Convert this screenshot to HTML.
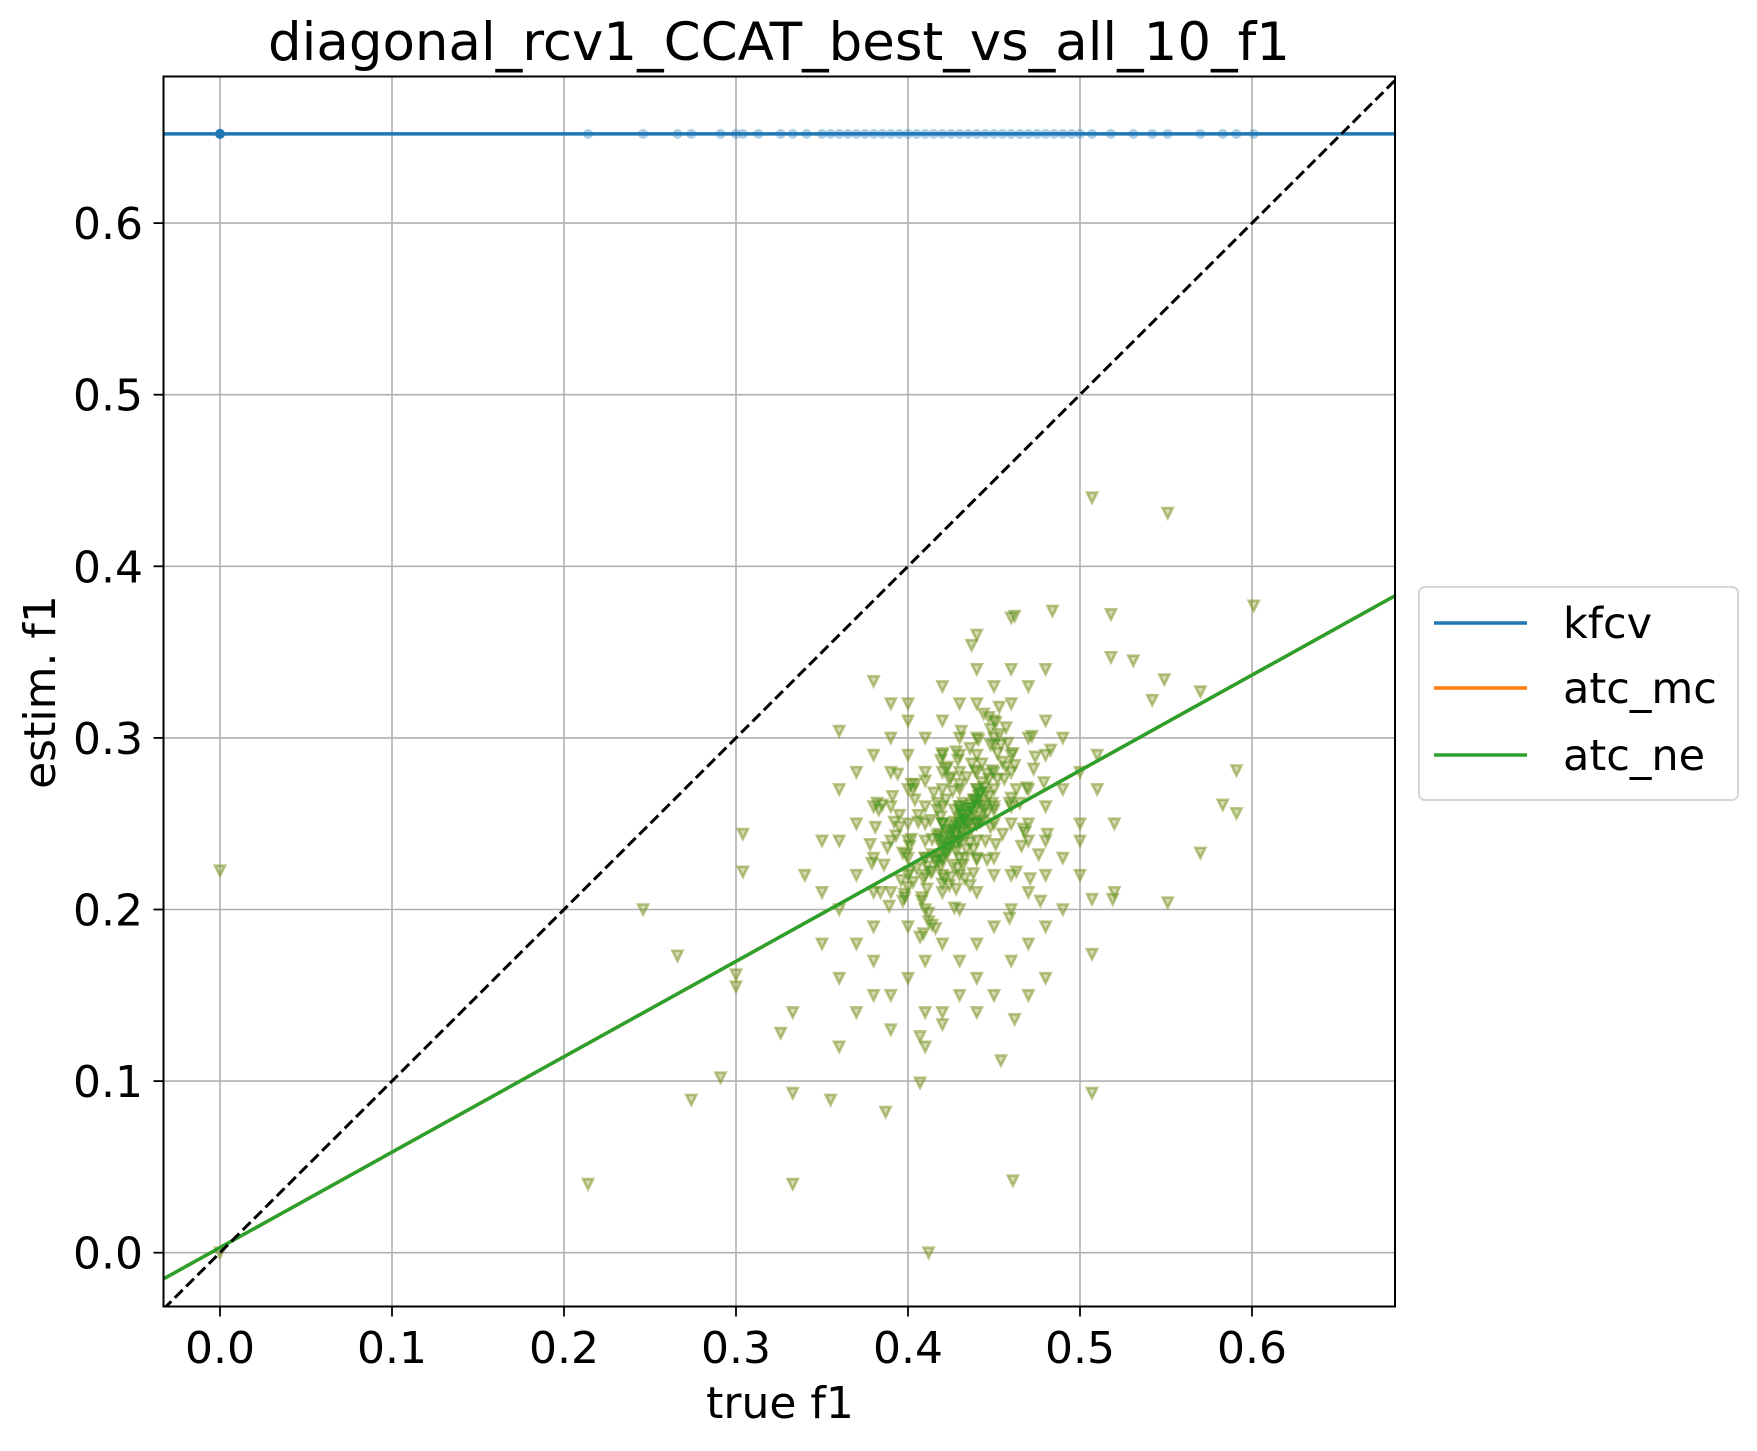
<!DOCTYPE html>
<html><head><meta charset="utf-8"><style>
html,body{margin:0;padding:0;background:#fff}
svg text{font-family:"DejaVu Sans","Liberation Sans",sans-serif;fill:#000}
</style></head><body>
<svg id="chart" width="1757" height="1446" xmlns="http://www.w3.org/2000/svg">
<text x="779" y="60" font-size="53" text-anchor="middle">diagonal_rcv1_CCAT_best_vs_all_10_f1</text>
<text x="780" y="1418" font-size="44" text-anchor="middle">true f1</text>
<text x="55" y="692" font-size="44" text-anchor="middle" transform="rotate(-90 55 692)">estim. f1</text>
<g id="grid"></g>
<g id="plot"></g>
<g id="ticks"></g>
<rect x="163.5" y="76.5" width="1231.5" height="1230" fill="none" stroke="#000" stroke-width="2"/>
<g>
<rect x="1419" y="587" width="319" height="213" rx="6" fill="#fff" stroke="#d6d6d6" stroke-width="2"/>
<line x1="1434" y1="623" x2="1527" y2="623" stroke="#1f77b4" stroke-width="3.5"/>
<text x="1563" y="638" font-size="43">kfcv</text>
<line x1="1434" y1="688" x2="1527" y2="688" stroke="#ff7f0e" stroke-width="3.5"/>
<text x="1563" y="703" font-size="43">atc_mc</text>
<line x1="1434" y1="755" x2="1527" y2="755" stroke="#2ca02c" stroke-width="3.5"/>
<text x="1563" y="770" font-size="43">atc_ne</text>
</g>
</svg>
<script>
const xTicks = [0.0,0.1,0.2,0.3,0.4,0.5,0.6];
const yTicks = [0.0,0.1,0.2,0.3,0.4,0.5,0.6];
const kfcvEst = 0.652;
const atcSlope = 0.556;
const atcIntercept = 0.003;
const kfcvTrue = [0.0,0.214,0.246,0.266,0.274,0.291,0.30,0.304,0.313,0.326,0.333,0.341,0.35,0.355,0.36,0.365,0.37,0.375,0.38,0.385,0.39,0.395,0.40,0.405,0.41,0.415,0.42,0.425,0.43,0.435,0.44,0.445,0.45,0.455,0.46,0.465,0.47,0.475,0.48,0.485,0.49,0.495,0.50,0.507,0.518,0.531,0.542,0.551,0.57,0.583,0.591,0.601];
const atcTrue = [0,0,0.214,0.246,0.266,0.274,0.291,0.30,0.30,0.304,0.304,0.326,0.333,0.333,0.333,0.355,0.36,0.38,0.387,0.412,0.407,0.437,0.461,0.462,0.484,0.507,0.551,0.601,0.518,0.531,0.549,0.570,0.591,0.583,0.591,0.570,0.551,0.519,0.507,0.507,0.507,0.542,0.518,0.454,0.462,0.420,0.407,
0.43,0.42,0.44,0.41,0.45,0.43,0.42,0.44,0.40,0.46,0.43,0.41,0.44,0.42,0.45,0.39,0.47,0.43,0.42,0.44,0.41,0.43,0.45,0.40,0.46,0.42,0.44,0.43,0.41,0.45,0.38,0.48,0.40,0.46,0.42,0.44,0.39,0.47,0.41,0.45,0.43,0.40,0.38,0.48,0.37,0.49,0.42,0.46,0.44,0.41,0.39,0.47,0.36,0.50,0.43,0.45,0.40,0.48,0.38,0.46,0.44,0.42,0.37,0.49,0.41,0.47,0.39,0.45,0.43,0.42,0.44,0.41,0.43,0.40,0.45,0.42,0.44,0.46,0.40,0.43,0.41,0.47,0.39,0.45,0.42,0.44,0.38,0.48,0.40,0.46,0.36,0.37,0.38,0.35,0.36,0.39,0.40,0.41,0.43,0.44,0.45,0.47,0.48,0.49,0.50,0.49,0.50,0.48,0.47,0.45,0.43,0.42,0.40,0.39,0.38,0.37,0.36,0.35,0.34,0.35,0.36,0.37,0.38,0.39,0.41,0.42,0.44,0.46,0.47,0.48,0.50,0.51,0.52,0.52,0.51,0.46,0.48,0.44,0.46,0.44,0.43,0.42,0.44,0.43,0.435,0.425,0.445,0.43,0.44,0.42];
const atcEst = [0.2226,0,0.040,0.200,0.173,0.089,0.102,0.162,0.155,0.244,0.222,0.128,0.093,0.040,0.140,0.089,0.304,0.333,0.082,0.0,0.099,0.354,0.042,0.371,0.374,0.440,0.431,0.377,0.372,0.345,0.334,0.327,0.281,0.261,0.256,0.233,0.204,0.206,0.206,0.174,0.093,0.322,0.347,0.112,0.136,0.133,0.126,
0.25,0.24,0.26,0.23,0.27,0.22,0.27,0.24,0.25,0.25,0.28,0.26,0.29,0.21,0.23,0.24,0.27,0.26,0.25,0.25,0.24,0.24,0.26,0.22,0.28,0.23,0.27,0.20,0.28,0.30,0.23,0.26,0.27,0.22,0.29,0.21,0.21,0.24,0.20,0.31,0.30,0.19,0.26,0.29,0.22,0.27,0.18,0.20,0.32,0.30,0.28,0.30,0.24,0.25,0.17,0.19,0.31,0.22,0.19,0.32,0.18,0.31,0.25,0.23,0.17,0.21,0.30,0.28,0.23,0.26,0.23,0.25,0.27,0.24,0.25,0.22,0.28,0.26,0.23,0.29,0.22,0.25,0.26,0.22,0.28,0.30,0.21,0.24,0.29,0.29,0.20,0.18,0.17,0.21,0.16,0.15,0.16,0.14,0.15,0.16,0.15,0.18,0.19,0.20,0.22,0.30,0.28,0.31,0.33,0.33,0.32,0.33,0.32,0.32,0.29,0.28,0.27,0.24,0.22,0.18,0.12,0.14,0.15,0.13,0.12,0.14,0.14,0.17,0.15,0.16,0.24,0.29,0.25,0.21,0.27,0.34,0.34,0.34,0.37,0.36,0.26,0.25,0.25,0.25,0.255,0.245,0.26,0.24,0.25,0.25];
const coreTrue = [0.432,0.428,0.437,0.421,0.441,0.426,0.435,0.418,0.444,0.431,0.423,0.439,0.427,0.433,0.416,0.447,0.429,0.436,0.422,0.442,0.425,0.434,0.419,0.438,0.430,0.424,0.440,0.413,0.446,0.428,0.435,0.420,0.443,0.427,0.432,0.417,0.449,0.426,0.437,0.421,0.411,0.452,0.405,0.455,0.408,0.414,0.450,0.403,0.458,0.410,0.415,0.453,0.401,0.456,0.406,0.412,0.448,0.398,0.460,0.404,0.436,0.424,0.441,0.419,0.433,0.429,0.438,0.422,0.445,0.417,0.431,0.427,0.440,0.425,0.434,0.420,0.443,0.428,0.436,0.423,0.396,0.462,0.393,0.465,0.399,0.457,0.395,0.463,0.402,0.459,0.391,0.467,0.397,0.454,0.394,0.466,0.400,0.451,0.392,0.469,0.388,0.471,0.385,0.474,0.389,0.468,0.386,0.472,0.383,0.476,0.381,0.479,0.384,0.473,0.379,0.481,0.382,0.477,0.378,0.483,0.409,0.447,0.412,0.444,0.416,0.450,0.407,0.453,0.414,0.448,0.430,0.426,0.439,0.421,0.435,0.431,0.424,0.442,0.418,0.437];
const coreEst = [0.252,0.244,0.261,0.238,0.266,0.249,0.257,0.231,0.271,0.247,0.236,0.263,0.242,0.255,0.228,0.276,0.240,0.259,0.233,0.268,0.246,0.250,0.225,0.264,0.253,0.239,0.270,0.222,0.279,0.234,0.245,0.229,0.274,0.258,0.262,0.243,0.281,0.226,0.285,0.218,0.212,0.291,0.224,0.286,0.207,0.241,0.258,0.216,0.297,0.230,0.268,0.302,0.237,0.276,0.251,0.198,0.248,0.209,0.265,0.273,0.294,0.214,0.299,0.254,0.218,0.287,0.221,0.282,0.240,0.262,0.304,0.201,0.229,0.277,0.235,0.291,0.252,0.212,0.239,0.283,0.217,0.284,0.243,0.262,0.232,0.306,0.255,0.222,0.273,0.195,0.266,0.247,0.205,0.296,0.279,0.237,0.213,0.309,0.251,0.271,0.236,0.218,0.261,0.289,0.202,0.245,0.226,0.301,0.258,0.232,0.248,0.274,0.210,0.282,0.227,0.244,0.262,0.205,0.238,0.293,0.186,0.312,0.193,0.314,0.189,0.296,0.184,0.318,0.191,0.305,0.258,0.247,0.264,0.242,0.251,0.256,0.236,0.268,0.244,0.259];
const denseTrue = [0.418,0.423,0.427,0.431,0.436,0.441,0.445,0.414,0.419,0.424,0.429,0.433,0.438,0.443,0.447,0.411,0.416,0.421,0.426,0.431,0.435,0.440,0.444,0.449,0.409,0.414,0.418,0.423,0.428,0.433,0.437,0.442,0.446,0.413,0.417,0.422,0.426,0.430,0.434,0.439,0.443,0.420,0.425,0.429,0.433,0.438,0.406,0.402,0.452,0.457,0.397,0.461,0.395,0.404,0.455,0.448,0.410,0.401,0.451,0.459,0.403,0.398,0.463,0.408,0.446,0.419,0.436,0.428,0.432,0.424];
const denseEst = [0.241,0.246,0.251,0.255,0.259,0.263,0.268,0.232,0.237,0.243,0.248,0.252,0.257,0.261,0.266,0.225,0.229,0.235,0.239,0.245,0.249,0.254,0.258,0.262,0.218,0.222,0.228,0.233,0.238,0.242,0.247,0.251,0.256,0.252,0.258,0.264,0.269,0.273,0.277,0.281,0.285,0.215,0.219,0.224,0.230,0.235,0.255,0.241,0.276,0.283,0.233,0.291,0.248,0.264,0.244,0.296,0.275,0.222,0.238,0.262,0.270,0.207,0.270,0.205,0.229,0.287,0.214,0.292,0.226,0.276];

const NS='http://www.w3.org/2000/svg';
const X0=163.5,X1=1395,Y0=76.5,Y1=1306.5;
function sx(v){return 220+v*1720;}
function sy(v){return 1252.7-v*1716;}
const xmin=(X0-220)/1720, xmax=(X1-220)/1720;
function mk(tag,attrs,parent){const e=document.createElementNS(NS,tag);for(const k in attrs)e.setAttribute(k,attrs[k]);parent.appendChild(e);return e;}
const grid=document.getElementById('grid'),plot=document.getElementById('plot'),ticks=document.getElementById('ticks');
xTicks.forEach(t=>{
  const g=mk('line',{x1:sx(t),x2:sx(t),y1:Y0,y2:Y1,stroke:'#b0b0b0','stroke-width':1.6},grid);
  
  
  const tk=mk('line',{x1:sx(t),x2:sx(t),y1:Y1,y2:Y1+10,stroke:'#000','stroke-width':1.8},ticks);
  
  
  const tx=mk('text',{x:sx(t),y:1363,'font-size':44,'text-anchor':'middle'},ticks);
  tx.textContent=t.toFixed(1);
  
  
});
yTicks.forEach(t=>{
  const g=mk('line',{x1:X0,x2:X1,y1:sy(t),y2:sy(t),stroke:'#b0b0b0','stroke-width':1.6},grid);
  
  
  const tk=mk('line',{x1:X0-10,x2:X0,y1:sy(t),y2:sy(t),stroke:'#000','stroke-width':1.8},ticks);
  
  
  const tx=mk('text',{x:143,y:sy(t)+16,'font-size':44,'text-anchor':'end'},ticks);
  tx.textContent=t.toFixed(1);
  
  
});
const clip=mk('clipPath',{id:'cp'},document.getElementById('chart'));
mk('rect',{x:X0,y:Y0,width:X1-X0,height:Y1-Y0},clip);
plot.setAttribute('clip-path','url(#cp)');
kfcvTrue.forEach((v,i)=>{
  const c=mk('circle',{cx:sx(v),cy:sy(kfcvEst),r:5,fill:'#1f77b4','fill-opacity':i===0?1:0.35},plot);
  
  
});
function tri(x,y){return `M${x-5},${y-5}L${x+5},${y-5}L${x},${y+5}Z`;}
const allTrue=atcTrue.concat(coreTrue,denseTrue), allEst=atcEst.concat(coreEst,denseEst);
[['#ff7f0e',0.3],['#2ca02c',0.32]].forEach(([col,op])=>{
  allTrue.forEach((v,i)=>{
    const p=mk('path',{d:tri(sx(v),sy(allEst[i])),stroke:col,'stroke-width':2.6,'stroke-opacity':op,fill:col,'fill-opacity':op*0.6},plot);
    
    
  });
});
const kl=mk('line',{x1:X0,x2:X1,y1:sy(kfcvEst),y2:sy(kfcvEst),stroke:'#1f77b4','stroke-width':3.5},plot);


[['#ff7f0e','atc-mc-line'],['#2ca02c','atc-ne-line']].forEach(([col,nm])=>{
  const l=mk('line',{x1:X0,x2:X1,y1:sy(atcIntercept+atcSlope*xmin),y2:sy(atcIntercept+atcSlope*xmax),stroke:col,'stroke-width':3.5},plot);
  
  
});
const d=mk('line',{x1:X0,x2:X1,y1:sy(xmin),y2:sy(xmax),stroke:'#000','stroke-width':3,'stroke-dasharray':'11,5'},plot);


</script>
</body></html>
